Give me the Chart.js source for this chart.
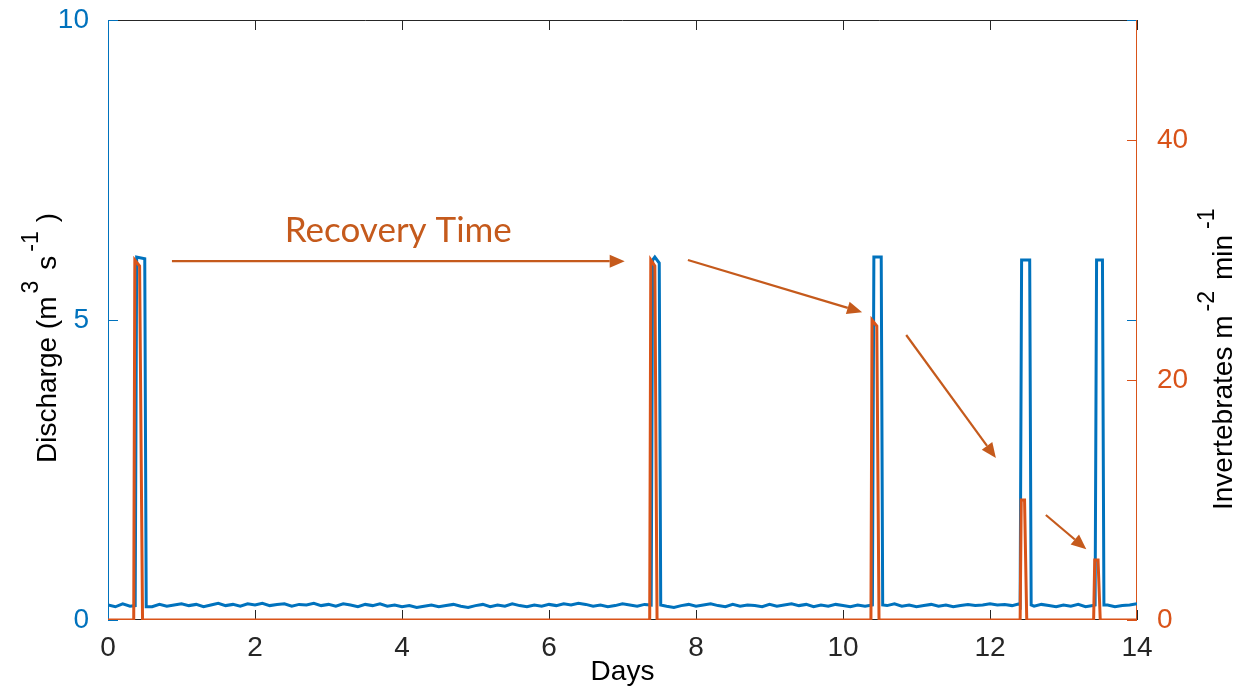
<!DOCTYPE html>
<html><head><meta charset="utf-8">
<script src="https://cdn.jsdelivr.net/npm/chart.js@4.4.1/dist/chart.umd.min.js"></script>
<style>html,body{margin:0;padding:0;background:#fff;overflow:hidden}</style>
</head><body>
<canvas id="c" width="1234" height="689"></canvas>
<script>
// ---------- data ----------
const xTicks = [0, 2, 4, 6, 8, 10, 12, 14];
const yLeftTicks = [0, 5, 10];
const yRightTicks = [0, 20, 40];
const baseStep = 0.1; // days between baseline discharge readings
const dischargeBase = [
  0.25,0.22,0.27,0.23,0.26,0.24,0.22,0.26,0.23,0.25,
  0.27,0.24,0.26,0.22,0.25,0.28,0.24,0.26,0.23,0.27,
  0.25,0.28,0.24,0.26,0.27,0.23,0.26,0.25,0.28,0.24,
  0.26,0.23,0.27,0.25,0.22,0.26,0.24,0.27,0.23,0.25,
  0.22,0.24,0.21,0.23,0.25,0.22,0.24,0.26,0.23,0.21,
  0.24,0.26,0.22,0.25,0.23,0.27,0.24,0.22,0.25,0.23,
  0.26,0.24,0.27,0.25,0.28,0.26,0.23,0.25,0.22,0.24,
  0.27,0.25,0.23,0.26,0.24,0.22,0.23,0.21,0.24,0.26,
  0.23,0.25,0.27,0.24,0.22,0.26,0.23,0.25,0.24,0.22,
  0.26,0.23,0.25,0.27,0.24,0.26,0.22,0.25,0.23,0.26,
  0.24,0.22,0.25,0.23,0.26,0.21,0.24,0.27,0.23,0.25,
  0.22,0.24,0.26,0.23,0.25,0.22,0.24,0.26,0.24,0.25,
  0.27,0.25,0.26,0.24,0.27,0.25,0.23,0.26,0.24,0.22,
  0.25,0.23,0.26,0.22,0.24,0.23,0.25,0.22,0.24,0.25,0.27
];
const dischargePeaks = [
  [[0.37,0.24],[0.39,6.05],[0.50,6.02],[0.52,0.22]],
  [[7.39,0.25],[7.41,6.00],[7.44,6.05],[7.50,5.95],[7.52,0.25]],
  [[10.40,0.25],[10.42,6.05],[10.52,6.05],[10.54,0.25]],
  [[12.41,0.25],[12.43,6.00],[12.54,6.00],[12.56,0.25]],
  [[13.43,0.25],[13.45,6.00],[13.53,6.00],[13.55,0.25]]
];
const invertebrateStart = [[0, 0]];
const invertebrateEnd = [[14, 0]];
const invertebratePeaks = [
  [[0.35,0],[0.365,30],[0.43,29.5],[0.47,0]],
  [[7.37,0],[7.385,30],[7.44,29.5],[7.47,0]],
  [[10.38,0],[10.395,25],[10.46,24.5],[10.49,0]],
  [[12.41,0],[12.425,10],[12.47,10],[12.50,0]],
  [[13.41,0],[13.425,5],[13.47,5],[13.50,0]]
];
// arrows in data units: [day0, discharge0, day1, discharge1]
const arrows = [
  [0.87, 5.98, 7.03, 5.98],
  [7.89, 6.00, 10.26, 5.13],
  [10.86, 4.75, 12.08, 2.70],
  [12.76, 1.75, 13.31, 1.18]
];
const noteText = 'Recovery Time';
const notePos = [3.95, 6.3];
const xTitle = 'Days';
// [text, superscript?, gap before (px)]
const leftTitle = [['Discharge (m', false, 0], ['3', true, 3], ['s', false, 11], ['-1', true, 4], [')', false, 9]];
const rightTitle = [['Invertebrates m', false, 0], ['-2', true, 4], ['min', false, 11], ['-1', true, 6]];

// ---------- build tables ----------
const BLUE = '#0072BD', ORANGE = '#D95319', NOTE = '#C55A1C', AX = '#262626';
function buildDischarge() {
  const pts = [];
  dischargeBase.forEach((v, i) => {
    const x = +(i * baseStep).toFixed(2);
    const inside = dischargePeaks.some(p => x >= p[0][0] && x <= p[p.length - 1][0]);
    if (!inside) pts.push({x, y: v});
  });
  dischargePeaks.forEach(p => p.forEach(([x, y]) => pts.push({x, y})));
  return pts.sort((a, b) => a.x - b.x);
}
function buildInvert() {
  const pts = [];
  invertebrateStart.concat(...invertebratePeaks, invertebrateEnd).forEach(([x, y]) => pts.push({x, y}));
  return pts.sort((a, b) => a.x - b.x);
}

const FONT = "'Liberation Sans', Arial, sans-serif";

function drawRich(ctx, parts, baseX, startY) {
  const normal = '28px ' + FONT, sup = '23px ' + FONT;
  ctx.save();
  ctx.translate(baseX, startY);
  ctx.rotate(-Math.PI / 2);
  ctx.fillStyle = '#000';
  ctx.textBaseline = 'alphabetic';
  ctx.textAlign = 'left';
  let x = 0;
  parts.forEach(([t, s, g]) => {
    x += g;
    ctx.font = s ? sup : normal;
    ctx.fillText(t, x, s ? -18 : 0);
    x += ctx.measureText(t).width;
  });
  ctx.restore();
}

const framePlugin = {
  id: 'frame',
  beforeDatasetsDraw(chart) {
    const {ctx, chartArea: a, scales} = chart;
    ctx.save();
    ctx.lineWidth = 1;
    ctx.strokeStyle = AX;
    ctx.beginPath();
    ctx.moveTo(a.left, a.top + 0.5); ctx.lineTo(a.right, a.top + 0.5);
    ctx.moveTo(a.left, a.bottom - 0.5); ctx.lineTo(a.right, a.bottom - 0.5);
    ctx.stroke();
    ctx.beginPath();
    xTicks.forEach(v => {
      const px = Math.round(scales.x.getPixelForValue(v)) + 0.5;
      ctx.moveTo(px, a.bottom); ctx.lineTo(px, a.bottom - 10);
      ctx.moveTo(px, a.top); ctx.lineTo(px, a.top + 10);
    });
    ctx.stroke();
    ctx.strokeStyle = BLUE;
    ctx.beginPath();
    ctx.moveTo(a.left + 0.5, a.top); ctx.lineTo(a.left + 0.5, a.bottom);
    yLeftTicks.forEach(v => {
      const py = Math.round(scales.y.getPixelForValue(v)) + 0.5;
      ctx.moveTo(a.left, py); ctx.lineTo(a.left + 10, py);
      ctx.moveTo(a.right, py); ctx.lineTo(a.right - 10, py);
    });
    ctx.stroke();
    ctx.strokeStyle = ORANGE;
    ctx.beginPath();
    ctx.moveTo(a.right - 0.5, a.top); ctx.lineTo(a.right - 0.5, a.bottom);
    yRightTicks.forEach(v => {
      const py = Math.round(scales.y2.getPixelForValue(v)) + 0.5;
      ctx.moveTo(a.right, py); ctx.lineTo(a.right - 10, py);
    });
    ctx.stroke();
    ctx.restore();
  },
  afterDraw(chart) {
    const {ctx, scales} = chart;
    const X = v => scales.x.getPixelForValue(v), Y = v => scales.y.getPixelForValue(v);
    ctx.save();
    ctx.strokeStyle = NOTE; ctx.fillStyle = NOTE; ctx.lineWidth = 2.2;
    arrows.forEach(([x0, y0, x1, y1]) => {
      const ax = X(x0), ay = Y(y0), bx = X(x1), by = Y(y1);
      const ang = Math.atan2(by - ay, bx - ax);
      const hl = 15, hw = 6.5;
      const ex = bx - hl * Math.cos(ang), ey = by - hl * Math.sin(ang);
      ctx.beginPath(); ctx.moveTo(ax, ay); ctx.lineTo(ex, ey); ctx.stroke();
      ctx.beginPath();
      ctx.moveTo(bx, by);
      ctx.lineTo(ex + hw * Math.sin(ang), ey - hw * Math.cos(ang));
      ctx.lineTo(ex - hw * Math.sin(ang), ey + hw * Math.cos(ang));
      ctx.closePath(); ctx.fill();
    });
    ctx.font = "35px Lato, 'Open Sans', sans-serif";
    ctx.textAlign = 'center'; ctx.textBaseline = 'alphabetic';
    ctx.fillText(noteText, X(notePos[0]), Y(notePos[1]));
    ctx.restore();
    drawRich(ctx, leftTitle, 56, 463);
    drawRich(ctx, rightTitle, 1232, 510);
  }
};

const noPad = s => { s.paddingTop = 0; s.paddingBottom = 0; s.paddingLeft = 0; s.paddingRight = 0; };

new Chart(document.getElementById('c'), {
  type: 'line',
  data: {
    datasets: [
      {label: 'Invertebrates', data: buildInvert(), yAxisID: 'y2', borderColor: ORANGE, borderWidth: 3, pointRadius: 0, tension: 0},
      {label: 'Discharge', data: buildDischarge(), yAxisID: 'y', borderColor: BLUE, borderWidth: 3, pointRadius: 0, tension: 0}
    ]
  },
  options: {
    responsive: false, animation: false,
    layout: {padding: {top: 20, left: 0, right: 0, bottom: 0}},
    plugins: {legend: {display: false}, tooltip: {enabled: false}},
    scales: {
      x: {
        type: 'linear', min: 0, max: 14,
        afterBuildTicks: s => { s.ticks = xTicks.map(v => ({value: v})); },
        afterFit: s => { s.height = 69; noPad(s); },
        grid: {display: false}, border: {display: false},
        ticks: {color: AX, font: {size: 28, family: FONT}, padding: 3, maxRotation: 0, autoSkip: false},
        title: {display: true, text: xTitle, color: '#000', font: {size: 28, family: FONT}, padding: {top: 0, bottom: 0}}
      },
      y: {
        position: 'left', min: 0, max: 10,
        afterBuildTicks: s => { s.ticks = yLeftTicks.map(v => ({value: v})); },
        afterFit: s => { s.width = 108; noPad(s); },
        grid: {display: false}, border: {display: false},
        ticks: {color: BLUE, font: {size: 28, family: FONT}, padding: 11}
      },
      y2: {
        position: 'right', min: 0, max: 50,
        afterBuildTicks: s => { s.ticks = yRightTicks.map(v => ({value: v})); },
        afterFit: s => { s.width = 97; noPad(s); },
        grid: {display: false}, border: {display: false},
        ticks: {color: ORANGE, font: {size: 28, family: FONT}, padding: 12}
      }
    }
  },
  plugins: [framePlugin]
});
</script>
</body></html>
